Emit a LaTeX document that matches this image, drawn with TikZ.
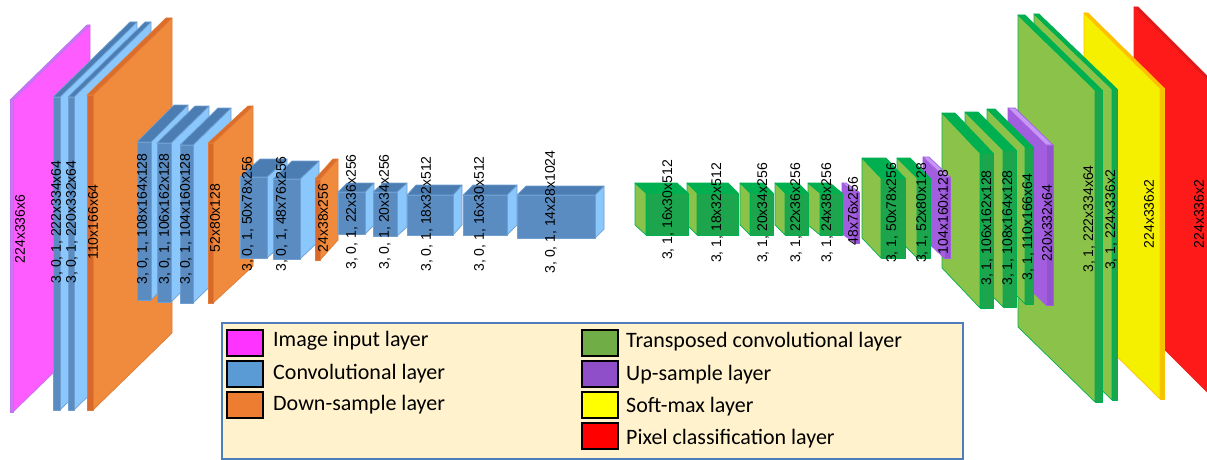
\documentclass[tikz,border=0pt]{standalone}
\usepackage{fontspec}
\newfontfamily\lblfont{Liberation Sans}
\newfontfamily\legfont{Carlito}
\definecolor{magF}{HTML}{C878F5}\definecolor{magT}{HTML}{C878F5}\definecolor{magS}{HTML}{FF5CFF}\definecolor{magE}{HTML}{C070F0}
\definecolor{bluF}{HTML}{5A8CC2}\definecolor{bluT}{HTML}{4B7DB3}\definecolor{bluS}{HTML}{8AC7FC}\definecolor{bluE}{HTML}{6E9FD0}
\definecolor{oraF}{HTML}{D9692B}\definecolor{oraT}{HTML}{DB6C2A}\definecolor{oraS}{HTML}{F08A3D}\definecolor{oraE}{HTML}{E07A35}
\definecolor{greF}{HTML}{1DA54D}\definecolor{greT}{HTML}{00B050}\definecolor{greS}{HTML}{8BC34A}\definecolor{greE}{HTML}{00B050}
\definecolor{purF}{HTML}{9352D0}\definecolor{purT}{HTML}{C797F8}\definecolor{purS}{HTML}{A35EE0}\definecolor{purE}{HTML}{A35EE0}
\definecolor{yelF}{HTML}{E8C800}\definecolor{yelT}{HTML}{FFC000}\definecolor{yelS}{HTML}{F5F000}\definecolor{yelE}{HTML}{FFC000}
\definecolor{redF}{HTML}{E01818}\definecolor{redT}{HTML}{E01818}\definecolor{redS}{HTML}{FF1A1A}\definecolor{redE}{HTML}{E82020}
\definecolor{legF}{HTML}{FFF2CC}\definecolor{legE}{HTML}{4F7DBA}
\definecolor{sMag}{HTML}{FF33FF}\definecolor{sBlu}{HTML}{5B9BD5}\definecolor{sOra}{HTML}{ED7D31}
\definecolor{sGre}{HTML}{70AD47}\definecolor{sPur}{HTML}{8E4FC8}\definecolor{sYel}{HTML}{FFFF00}\definecolor{sRed}{HTML}{FF0000}
% encoder box: depth goes up-right
\newcommand{\encbox}[7]{%
  \filldraw[face,fill=#7S,draw=#7E] (#2,#3) -- ++(#5,-#6) -- ++(0,{#4-#3}) -- (#2,#4) -- cycle;
  \filldraw[face,fill=#7T,draw=#7E] (#1,#3) -- ++(#5,-#6) -- ++({#2-#1},0) -- (#2,#3) -- cycle;
  \filldraw[face,fill=#7F,draw=#7E] (#1,#3) rectangle (#2,#4);}
% decoder box: depth goes up-left
\newcommand{\decbox}[7]{%
  \filldraw[face,fill=#7S,draw=#7E] (#1,#3) -- ++(-#5,-#6) -- ++(0,{#4-#3}) -- (#1,#4) -- cycle;
  \filldraw[face,fill=#7T,draw=#7E] (#1,#3) -- ++(-#5,-#6) -- ++({#2-#1},0) -- (#2,#3) -- cycle;
  \filldraw[face,fill=#7F,draw=#7E] (#1,#3) rectangle (#2,#4);}
\begin{document}
\begin{tikzpicture}[x=1pt,y=-1pt,
  face/.style={line width=0.7pt,line join=round},
  lbl/.style={rotate=90,inner sep=0pt,font=\lblfont\fontsize{14}{14}\selectfont},
  legtext/.style={anchor=west,inner sep=0pt,font=\legfont\fontsize{22}{22}\selectfont},
  swatch/.style={draw=black,line width=1.3pt}]
\clip (0,0) rectangle (1207,460);
\fill[white] (0,0) rectangle (1207,460);
% ---------- encoder ----------
\encbox{10}{13}{100}{412}{77}{75}{mag}
\encbox{53}{60}{97}{410}{77}{75}{blu}
\encbox{68}{74}{97}{410}{77}{75}{blu}
\encbox{87}{93}{95}{410}{79}{77}{ora}
\encbox{137}{151}{142}{300}{37}{37}{blu}
\encbox{157}{171}{143}{302}{38}{37}{blu}
\encbox{180}{193}{145}{303}{38}{37}{blu}
\encbox{208}{213}{143}{303}{40}{37}{ora}
\encbox{240}{267}{177}{258}{20}{18}{blu}
\encbox{273}{300}{179}{259}{19}{18}{blu}
\encbox{315}{320}{179}{260}{18}{20}{ora}
\encbox{338}{365}{192}{234}{9}{9}{blu}
\encbox{373}{397}{192}{236}{10}{9}{blu}
\encbox{407}{453}{195}{235}{9}{10}{blu}
\encbox{463}{507}{195}{235}{10}{10}{blu}
\encbox{517}{595}{195}{238}{9}{9}{blu}
% ---------- decoder (back to front) ----------
\decbox{1209}{1213}{82}{394}{75}{75}{red}
\decbox{1160}{1164}{88}{399}{76}{75}{yel}
\decbox{1112}{1117}{89}{400}{78}{75}{gre}
\decbox{1095}{1102}{90}{402}{77}{75}{gre}
\decbox{1046}{1053}{145}{305}{38}{37}{pur}
\decbox{1025}{1033}{147}{304}{38}{38}{gre}
\decbox{1003}{1016}{150}{307}{38}{38}{gre}
\decbox{980}{993}{153}{308}{38}{40}{gre}
\decbox{944}{950}{177}{258}{21}{20}{pur}
\decbox{917}{930}{178}{258}{20}{20}{gre}
\decbox{881}{905}{178}{258}{19}{20}{gre}
\decbox{855}{859}{192}{243}{13}{9}{pur}
\decbox{820}{842}{193}{235}{12}{10}{gre}
\decbox{785}{808}{193}{235}{10}{10}{gre}
\decbox{750}{773}{193}{235}{10}{10}{gre}
\decbox{697}{738}{193}{235}{10}{10}{gre}
\decbox{646}{688}{193}{235}{11}{10}{gre}
% ---------- labels ----------
\node[lbl] (l1) at (20,229) {224x336x6};
\node[lbl] (l2) at (57,222) {3, 0, 1, 222x334x64};
\node[lbl] (l3) at (72,222) {3, 0, 1, 220x332x64};
\node[lbl] (l4) at (93,222) {110x166x64};
\node[lbl] (l5) at (143,219) {3, 0, 1, 108x164x128};
\node[lbl] (l6) at (165,219) {3, 0, 1, 106x162x128};
\node[lbl] (l7) at (186,219) {3, 0, 1, 104x160x128};
\node[lbl] (l8) at (215,218) {52x80x128};
\node[lbl] (l9) at (248,214) {3, 0, 1, 50x78x256};
\node[lbl] (l10) at (282,214) {3, 0, 1, 48x76x256};
\node[lbl] (l11) at (323,218) {24x38x256};
\node[lbl] (l12) at (352,212) {3, 0, 1, 22x36x256};
\node[lbl] (l13) at (385,212) {3, 0, 1, 20x34x256};
\node[lbl] (l14) at (427,214) {3, 0, 1, 18x32x512};
\node[lbl] (l15) at (480,214) {3, 0, 1, 16x30x512};
\node[lbl] (l16) at (551,212) {3, 0, 1, 14x28x1024};
\node[lbl] (l17) at (668,210) {3, 1, 16x30x512};
\node[lbl] (l18) at (717,213) {3, 1, 18x32x512};
\node[lbl] (l19) at (763,213) {3, 1, 20x34x256};
\node[lbl] (l20) at (796,213) {3, 1, 22x36x256};
\node[lbl] (l21) at (827,213) {3, 1, 24x38x256};
\node[lbl] (l22) at (853,211) {48x76x256};
\node[lbl] (l23) at (892,213) {3, 1, 50x78x256};
\node[lbl] (l24) at (922,213) {3, 1, 52x80x128};
\node[lbl] (l25) at (943,212) {104x160x128};
\node[lbl] (l26) at (987,228) {3, 1, 106x162x128};
\node[lbl] (l27) at (1008,228) {3, 1, 108x164x128};
\node[lbl] (l28) at (1028,227) {3, 1, 110x166x64};
\node[lbl] (l29) at (1047,223) {220x332x64};
\node[lbl] (l30) at (1089,219) {3, 1, 222x334x64};
\node[lbl] (l31) at (1111,220) {3, 1, 224x336x2};
\node[lbl] (l32) at (1149,214) {224x336x2};
\node[lbl] (l33) at (1199,214) {224x336x2};
% ---------- legend ----------
\filldraw[fill=legF,draw=legE,line width=1.2pt] (222,323) rectangle (963,459);
\filldraw[swatch,fill=sMag] (227,330) rectangle (263,356);
\filldraw[swatch,fill=sBlu] (227,361) rectangle (263,387);
\filldraw[swatch,fill=sOra] (227,392) rectangle (263,418);
\filldraw[swatch,fill=sGre] (582,330) rectangle (618,356);
\filldraw[swatch,fill=sPur] (582,361) rectangle (618,387);
\filldraw[swatch,fill=sYel] (582,392) rectangle (618,418);
\filldraw[swatch,fill=sRed] (582,423) rectangle (618,449);
\node[legtext] (t1) at (273,341) {Image input layer};
\node[legtext] (t2) at (273,374) {Convolutional layer};
\node[legtext] (t3) at (273,405) {Down-sample layer};
\node[legtext] (t4) at (626,342) {Transposed convolutional layer};
\node[legtext] (t5) at (626,375) {Up-sample layer};
\node[legtext] (t6) at (626,407) {Soft-max layer};
\node[legtext] (t7) at (626,439) {Pixel classification layer};
\end{tikzpicture}
\end{document}
